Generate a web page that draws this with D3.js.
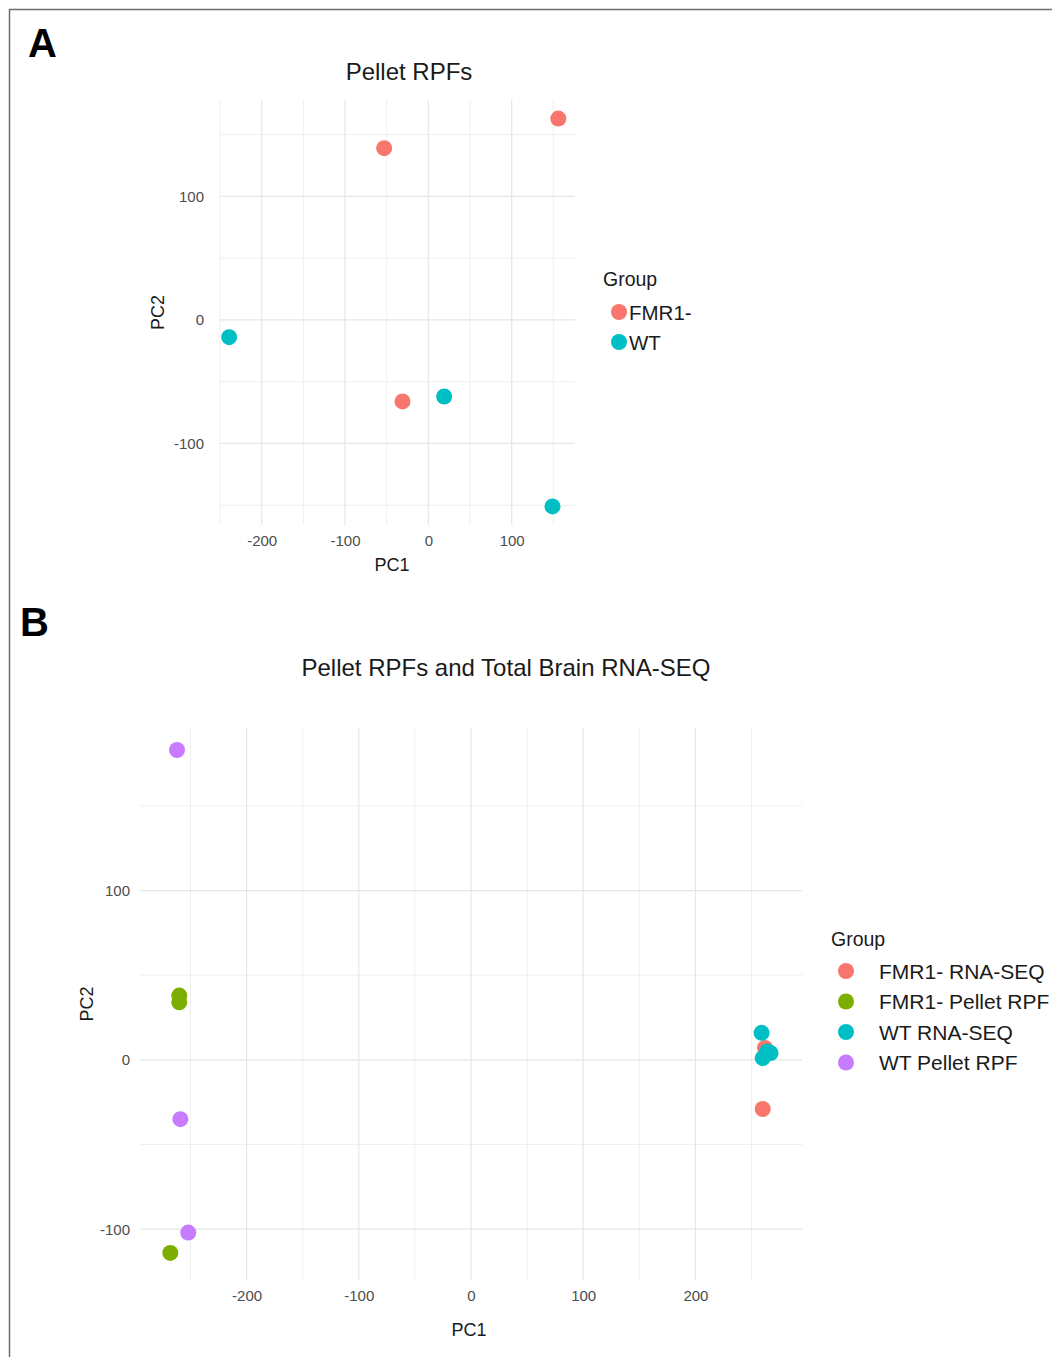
<!DOCTYPE html>
<html>
<head>
<meta charset="utf-8">
<script src="https://cdn.jsdelivr.net/npm/d3@7"></script>
<style>
  body { margin: 0; background: #fff; }
  text { font-family: "Liberation Sans", Arial, sans-serif; }
</style>
</head>
<body>
<div id="fig"></div>
<script>
// 1: DATA
const groupsA = ["FMR1-", "WT"];
const colorsA = ["#F8766D", "#00BFC4"];
const pointsA = [
  { pc1: -53, pc2: 139, group: "FMR1-" },
  { pc1: 156, pc2: 163, group: "FMR1-" },
  { pc1: -31, pc2: -66, group: "FMR1-" },
  { pc1: -239, pc2: -14, group: "WT" },
  { pc1: 19, pc2: -62, group: "WT" },
  { pc1: 149, pc2: -151, group: "WT" }
];
const xTicksA = [-200, -100, 0, 100];
const yTicksA = [-100, 0, 100];

const groupsB = ["FMR1- RNA-SEQ", "FMR1- Pellet RPF", "WT RNA-SEQ", "WT Pellet RPF"];
const colorsB = ["#F8766D", "#7CAE00", "#00BFC4", "#C77CFF"];
const pointsB = [
  { pc1: 262, pc2: 7, group: "FMR1- RNA-SEQ" },
  { pc1: 260, pc2: -29, group: "FMR1- RNA-SEQ" },
  { pc1: -260, pc2: 38, group: "FMR1- Pellet RPF" },
  { pc1: -260, pc2: 34, group: "FMR1- Pellet RPF" },
  { pc1: -268, pc2: -114, group: "FMR1- Pellet RPF" },
  { pc1: 259, pc2: 16, group: "WT RNA-SEQ" },
  { pc1: 260, pc2: 1, group: "WT RNA-SEQ" },
  { pc1: 267, pc2: 4, group: "WT RNA-SEQ" },
  { pc1: 264, pc2: 5, group: "WT RNA-SEQ" },
  { pc1: -262, pc2: 183, group: "WT Pellet RPF" },
  { pc1: -259, pc2: -35, group: "WT Pellet RPF" },
  { pc1: -252, pc2: -102, group: "WT Pellet RPF" }
];
const xTicksB = [-200, -100, 0, 100, 200];
const yTicksB = [-100, 0, 100];

// 2: SVG
const svg = d3.select("#fig").append("svg")
  .attr("width", 1052)
  .attr("height", 1357);

svg.append("rect")
  .attr("x", 9.5).attr("y", 9.5)
  .attr("width", 1100).attr("height", 1400)
  .attr("fill", "none")
  .attr("stroke", "#6e6e6e")
  .attr("stroke-width", 1.5);

function drawPanel(p) {
  const x = d3.scaleLinear().domain(p.xDomain).range(p.xRange);
  const y = d3.scaleLinear().domain(p.yDomain).range(p.yRange);
  const color = d3.scaleOrdinal().domain(p.groups).range(p.colors);
  const g = svg.append("g");

  // minor grid
  const xMinor = p.xTicks.map(t => t - 50).concat([p.xTicks[p.xTicks.length - 1] + 50])
    .filter(v => v >= p.xDomain[0] && v <= p.xDomain[1]);
  const yMinor = p.yTicks.map(t => t - 50).concat([p.yTicks[p.yTicks.length - 1] + 50])
    .filter(v => v >= p.yDomain[0] && v <= p.yDomain[1]);

  g.selectAll(".vminor").data(xMinor).join("line")
    .attr("x1", d => x(d)).attr("x2", d => x(d))
    .attr("y1", p.yRange[0]).attr("y2", p.yRange[1])
    .attr("stroke", "#efefef").attr("stroke-width", 1);
  g.selectAll(".hminor").data(yMinor).join("line")
    .attr("y1", d => y(d)).attr("y2", d => y(d))
    .attr("x1", p.xRange[0]).attr("x2", p.xRange[1])
    .attr("stroke", "#efefef").attr("stroke-width", 1);
  g.selectAll(".vmajor").data(p.xTicks).join("line")
    .attr("x1", d => x(d)).attr("x2", d => x(d))
    .attr("y1", p.yRange[0]).attr("y2", p.yRange[1])
    .attr("stroke", "#e6e6e6").attr("stroke-width", 1.2);
  g.selectAll(".hmajor").data(p.yTicks).join("line")
    .attr("y1", d => y(d)).attr("y2", d => y(d))
    .attr("x1", p.xRange[0]).attr("x2", p.xRange[1])
    .attr("stroke", "#e6e6e6").attr("stroke-width", 1.2);

  // axes (labels only), plain hyphen for negatives
  const xAxis = g.append("g")
    .attr("transform", `translate(0,${p.yRange[0] + 4})`)
    .call(d3.axisBottom(x).tickValues(p.xTicks).tickSize(0).tickPadding(6)
      .tickFormat(d => String(d)));
  const yAxis = g.append("g")
    .attr("transform", `translate(${p.xRange[0] - p.yTickGap},0)`)
    .call(d3.axisLeft(y).tickValues(p.yTicks).tickSize(0).tickPadding(6)
      .tickFormat(d => String(d)));
  [xAxis, yAxis].forEach(a => {
    a.select(".domain").remove();
    a.selectAll("text")
      .style("font-size", "15px")
      .style("font-family", '"Liberation Sans", Arial, sans-serif')
      .attr("fill", "#4d4d4d");
  });

  // points
  g.selectAll(".pt").data(p.points).join("circle")
    .attr("cx", d => x(d.pc1))
    .attr("cy", d => y(d.pc2))
    .attr("r", 8)
    .attr("fill", d => color(d.group));

  // titles
  g.append("text")
    .attr("x", p.titleX).attr("y", p.titleY)
    .attr("text-anchor", "middle")
    .style("font-size", "24px")
    .attr("fill", "#1a1a1a")
    .text(p.title);

  g.append("text")
    .attr("x", p.xLabelX)
    .attr("y", p.xLabelY)
    .attr("text-anchor", "middle")
    .style("font-size", "18px")
    .attr("fill", "#1a1a1a")
    .text("PC1");

  g.append("text")
    .attr("transform", "rotate(-90)")
    .attr("x", -(p.yRange[0] + p.yRange[1]) / 2)
    .attr("y", p.yLabelX)
    .attr("text-anchor", "middle")
    .style("font-size", "18px")
    .attr("fill", "#1a1a1a")
    .text("PC2");

  // panel letter
  g.append("text")
    .attr("x", p.letterX).attr("y", p.letterY)
    .style("font-size", "40px")
    .style("font-weight", "bold")
    .attr("fill", "#000")
    .text(p.letter);

  // legend
  const legend = g.append("g");
  legend.append("text")
    .attr("x", p.legendX).attr("y", p.legendY)
    .style("font-size", "19.5px")
    .attr("fill", "#1a1a1a")
    .text("Group");
  p.groups.forEach((grp, i) => {
    const cy = p.legendY + p.legendFirst + i * p.legendStep;
    legend.append("circle")
      .attr("cx", p.legendDotX).attr("cy", cy).attr("r", 8)
      .attr("fill", color(grp));
    legend.append("text")
      .attr("x", p.legendTextX).attr("y", cy + 7.5)
      .style("font-size", p.legendFont)
      .attr("fill", "#1a1a1a")
      .text(grp);
  });
}

drawPanel({
  letter: "A", letterX: 28, letterY: 57,
  title: "Pellet RPFs", titleX: 409, titleY: 80,
  xDomain: [-250, 176], xRange: [220, 575],
  yDomain: [-166, 178], yRange: [525, 100],
  xTicks: xTicksA, yTicks: yTicksA, yTickGap: 10,
  xLabelX: 392, xLabelY: 571, yLabelX: 164,
  groups: groupsA, colors: colorsA, points: pointsA,
  legendX: 603, legendY: 286, legendFirst: 26, legendStep: 30,
  legendDotX: 619, legendTextX: 629, legendFont: "20.5px"
});

drawPanel({
  letter: "B", letterX: 20, letterY: 636,
  title: "Pellet RPFs and Total Brain RNA-SEQ", titleX: 506, titleY: 676,
  xDomain: [-295, 295], xRange: [140, 802],
  yDomain: [-130, 196], yRange: [1280, 728],
  xTicks: xTicksB, yTicks: yTicksB, yTickGap: 4,
  xLabelX: 469, xLabelY: 1336, yLabelX: 93,
  groups: groupsB, colors: colorsB, points: pointsB,
  legendX: 831, legendY: 946, legendFirst: 25, legendStep: 30.5,
  legendDotX: 846, legendTextX: 879, legendFont: "21px"
});
</script>
</body>
</html>
